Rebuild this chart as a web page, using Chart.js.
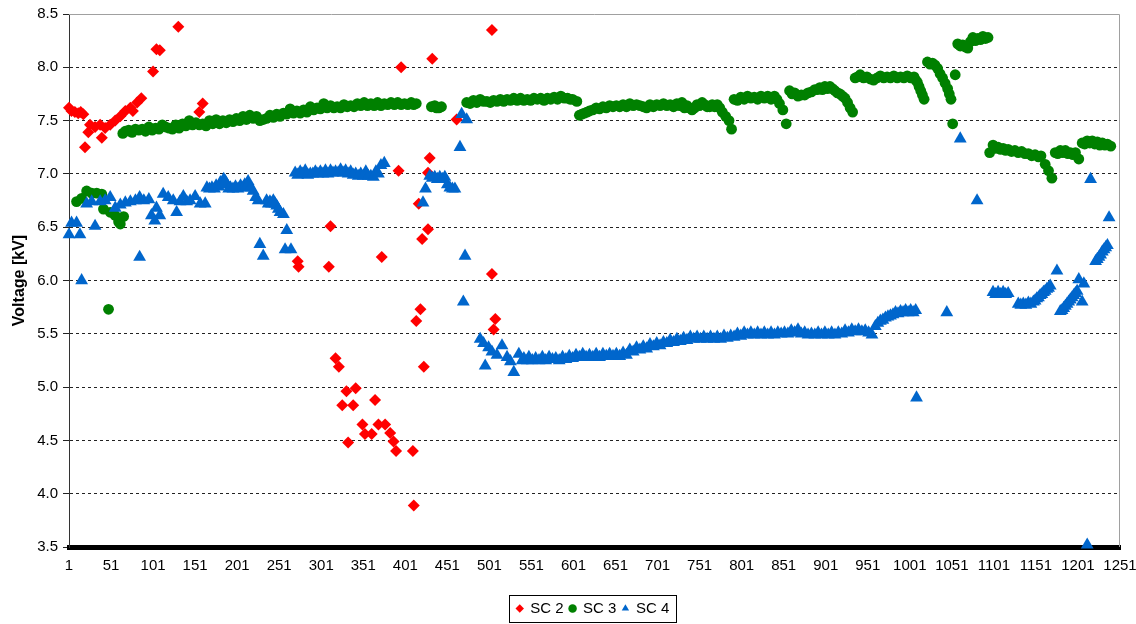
<!DOCTYPE html>
<html><head><meta charset="utf-8">
<script src="https://cdn.jsdelivr.net/npm/chart.js@4/dist/chart.umd.min.js"></script>
<style>html,body{margin:0;padding:0;background:#fff}#c{display:block}</style>
</head><body>
<canvas id="c" width="1136" height="624"></canvas>
<script>
const xTicks = [1,51,101,151,201,251,301,351,401,451,501,551,601,651,701,751,801,851,901,951,1001,1051,1101,1151,1201,1251];
const yMin = 3.5, yMax = 8.5, yStep = 0.5;
const yTitle = 'Voltage [kV]';
const seriesNames = ['SC 2','SC 3','SC 4'];

const sc2 = [
[1,7.62],[4,7.59],[8,7.58],[12,7.57],[15,7.58],[18,7.56],[20,7.25],[24,7.39],[26,7.46],[32,7.44],[38,7.46],[40,7.34],
[44,7.43],[50,7.46],[56,7.5],[62,7.54],[68,7.59],[74,7.62],[77,7.59],[82,7.67],[87,7.71],[101,7.96],[105,8.17],[109,8.16],
[131,8.38],[156,7.58],[160,7.66],
[273,6.18],[274,6.13],[310,6.13],[312,6.51],[318,5.27],[322,5.19],[326,4.83],[331,4.96],[333,4.48],[339,4.83],[342,4.99],
[350,4.65],[353,4.56],[361,4.56],[365,4.88],[369,4.65],[373,6.22],[377,4.65],[383,4.57],[387,4.49],[390,4.4],[393,7.03],
[396,8.0],[410,4.4],[411,3.89],[414,5.62],[417,6.72],[419,5.73],[421,6.39],[423,5.19],[428,7.01],[428,6.48],[430,7.15],
[433,8.08],[462,7.51],[504,8.35],[504,6.06],[506,5.54],[508,5.64]
];

const sc3 = [
[10,6.74],[16,6.77],[22,6.84],[28,6.82],[34,6.82],[40,6.81],[42,6.67],[48,5.73],[50,6.64],[56,6.61],[60,6.55],[62,6.53],[66,6.6],
[65,7.38],[72,7.41],[80,7.42],[88,7.42],[96,7.44],[104,7.43],[112,7.46],[120,7.43],[128,7.46],[136,7.47],[144,7.5],[152,7.48],
[160,7.47],[168,7.5],[176,7.51],[184,7.5],[192,7.51],[200,7.52],[208,7.54],[216,7.55],[224,7.54],[232,7.51],[240,7.55],[248,7.56],
[256,7.57],[264,7.61],[272,7.59],[280,7.6],[288,7.63],[296,7.62],[304,7.66],[312,7.64],[320,7.63],[328,7.65],[336,7.64],[344,7.66],
[352,7.67],[360,7.66],[368,7.67],[376,7.66],[384,7.67],[392,7.67],[400,7.66],[408,7.67],[414,7.66],[432,7.63],[438,7.62],[444,7.63],
[474,7.67],[482,7.69],[490,7.7],[498,7.68],[506,7.69],[514,7.7],[522,7.7],[530,7.71],[538,7.71],[546,7.7],[554,7.71],[562,7.71],
[570,7.71],[578,7.72],[586,7.73],[594,7.71],[600,7.7],[605,7.68],[608,7.55],[614,7.57],[620,7.59],[628,7.62],[636,7.63],[644,7.64],
[652,7.64],[660,7.65],[668,7.66],[676,7.65],[684,7.63],[692,7.65],[700,7.65],[708,7.66],[716,7.65],[724,7.66],[730,7.67],[736,7.64],
[742,7.6],[748,7.65],[754,7.67],[760,7.63],[766,7.65],[772,7.65],[778,7.58],[782,7.54],[786,7.5],[789,7.42],[792,7.7],[800,7.72],
[808,7.73],[816,7.72],[824,7.73],[832,7.73],[840,7.73],[846,7.66],[850,7.6],[854,7.47],[858,7.78],[864,7.76],[872,7.74],[880,7.76],
[888,7.79],[894,7.81],[900,7.82],[906,7.82],[912,7.78],[918,7.75],[924,7.71],[930,7.62],[933,7.58],[936,7.9],[942,7.93],[950,7.91],
[958,7.88],[966,7.92],[974,7.91],[982,7.92],[990,7.91],[998,7.92],[1006,7.91],[1010,7.86],[1014,7.78],[1018,7.7],[1022,8.05],
[1028,8.04],[1034,7.99],[1040,7.9],[1046,7.8],[1050,7.7],[1052,7.47],[1055,7.93],[1058,8.22],[1064,8.21],[1070,8.18],[1076,8.28],
[1082,8.27],[1088,8.29],[1094,8.28],[1096,7.2],[1100,7.27],[1106,7.25],[1112,7.24],[1118,7.23],[1126,7.22],[1134,7.21],[1142,7.19],
[1150,7.18],[1157,7.17],[1162,7.09],[1166,7.03],[1170,6.96],[1174,7.2],[1180,7.22],[1186,7.22],[1192,7.2],[1198,7.2],[1202,7.14],
[1206,7.29],[1212,7.31],[1218,7.31],[1224,7.3],[1230,7.29],[1236,7.28],[1240,7.26],
[68,7.4],[76,7.39],[84,7.41],[92,7.4],[100,7.41],[108,7.42],[116,7.44],[124,7.42],[132,7.43],[140,7.45],[148,7.46],[156,7.46],
[164,7.45],[172,7.47],[180,7.47],[188,7.48],[196,7.49],[204,7.5],[212,7.51],[220,7.52],[228,7.5],[236,7.52],[244,7.53],[252,7.54],
[260,7.56],[268,7.57],[276,7.57],[284,7.58],[292,7.6],[300,7.61],[308,7.62],[316,7.62],[324,7.62],[332,7.63],[340,7.63],[348,7.64],
[356,7.64],[364,7.64],[372,7.64],[380,7.65],[388,7.65],[396,7.65],[404,7.65],[411,7.65],[436,7.64],[441,7.62],
[478,7.66],[486,7.67],[494,7.68],[502,7.67],[510,7.68],[518,7.68],[526,7.69],[534,7.69],[542,7.69],[550,7.69],[558,7.7],[566,7.69],
[574,7.7],[582,7.7],[590,7.71],[597,7.7],
[611,7.56],[617,7.58],[624,7.6],[632,7.61],[640,7.62],[648,7.63],[656,7.63],[664,7.63],[672,7.64],[680,7.64],[688,7.62],[696,7.63],
[704,7.64],[712,7.64],[720,7.63],[727,7.64],[733,7.62],[739,7.62],[745,7.62],[751,7.64],[757,7.65],[763,7.63],[769,7.63],[775,7.62],
[796,7.69],[804,7.7],[812,7.71],[820,7.7],[828,7.71],[836,7.7],[843,7.7],
[861,7.75],[868,7.73],[876,7.74],[884,7.77],[891,7.79],[897,7.79],[903,7.8],[909,7.8],[915,7.76],[921,7.73],[927,7.67],
[939,7.91],[946,7.9],[954,7.89],[962,7.9],[970,7.9],[978,7.9],[986,7.9],[994,7.9],[1002,7.9],[1008,7.88],[1012,7.82],[1016,7.74],
[1025,8.03],[1031,8.02],[1037,7.94],[1043,7.85],[1048,7.75],
[1061,8.2],[1067,8.19],[1073,8.24],[1079,8.25],[1085,8.26],[1091,8.27],
[1103,7.24],[1109,7.23],[1115,7.22],[1122,7.21],[1130,7.2],[1138,7.19],[1146,7.17],[1154,7.16],
[1177,7.19],[1183,7.2],[1189,7.19],[1195,7.18],[1209,7.28],[1215,7.29],[1221,7.28],[1227,7.27],[1233,7.27]
];

const sc4 = [
[1,6.43],[4,6.54],[10,6.54],[14,6.43],[16,6.0],[22,6.72],[28,6.74],[32,6.51],[38,6.74],[44,6.75],[50,6.78],[56,6.68],[62,6.71],
[68,6.73],[74,6.74],[80,6.75],[85,6.78],[85,6.22],[90,6.75],[96,6.76],[99,6.61],[103,6.56],[105,6.68],[109,6.61],[113,6.81],
[119,6.78],[125,6.75],[129,6.64],[133,6.74],[137,6.79],[141,6.74],[145,6.75],[151,6.79],[157,6.72],[163,6.72],[165,6.87],[171,6.87],
[176,6.89],[181,6.92],[185,6.95],[189,6.9],[193,6.87],[199,6.88],[205,6.89],[210,6.9],[214,6.93],[220,6.84],[226,6.75],[228,6.34],
[232,6.23],[236,6.75],[240,6.74],[244,6.75],[248,6.7],[252,6.64],[256,6.62],[258,6.29],[260,6.47],[265,6.29],
[270,7.01],[276,7.02],[282,7.03],[288,7.0],[294,7.02],[300,7.02],[306,7.03],[312,7.03],[318,7.02],[324,7.04],[330,7.03],[336,7.02],
[342,7.0],[348,7.0],[354,7.02],[360,6.98],[366,7.02],[372,7.08],[376,7.1],
[422,6.73],[425,6.86],[430,6.98],[436,6.97],[442,6.97],[448,6.97],[454,6.87],[460,6.86],[466,7.25],[468,7.56],[474,7.51],[470,5.8],[472,6.23],
[490,5.45],[494,5.41],[496,5.2],[500,5.37],[504,5.33],[510,5.3],[516,5.39],[522,5.28],[526,5.24],[530,5.14],[536,5.31],[542,5.27],
[548,5.28],[556,5.27],[564,5.28],[572,5.28],[580,5.27],[588,5.28],[596,5.29],[604,5.3],[612,5.31],[620,5.3],[628,5.31],[636,5.31],
[644,5.31],[652,5.31],[660,5.32],[668,5.35],[676,5.37],[684,5.38],[692,5.4],[700,5.41],[708,5.42],[716,5.44],[724,5.45],[732,5.46],
[740,5.47],[748,5.47],[756,5.47],[764,5.47],[772,5.47],[780,5.48],[788,5.48],[796,5.5],[804,5.51],[812,5.51],[820,5.51],[828,5.51],
[836,5.51],[844,5.51],[852,5.51],[860,5.53],[868,5.54],[876,5.51],[884,5.5],[892,5.51],[900,5.51],[908,5.51],[916,5.51],[924,5.53],
[932,5.54],[940,5.54],[948,5.53],[956,5.49],[960,5.57],[966,5.62],[972,5.65],[978,5.67],[984,5.7],[990,5.71],[996,5.72],[1002,5.72],
[1008,5.72],[1009,4.9],[1045,5.7],[1061,7.33],[1081,6.75],[1100,5.89],[1106,5.89],[1112,5.89],[1118,5.88],[1130,5.78],[1136,5.78],
[1142,5.79],[1148,5.8],[1152,5.83],[1156,5.86],[1160,5.89],[1164,5.92],[1168,5.95],[1176,6.09],[1180,5.71],[1184,5.74],[1188,5.78],
[1192,5.82],[1196,5.86],[1200,5.9],[1202,6.01],[1206,5.8],[1208,5.97],[1212,3.52],[1216,6.95],[1222,6.18],[1226,6.22],[1230,6.27],
[1234,6.31],[1238,6.59],
[168,6.86],[174,6.86],[179,6.88],[183,6.9],[187,6.93],[191,6.86],[196,6.86],[202,6.86],[208,6.87],[212,6.88],[217,6.87],[223,6.78],
[238,6.72],[242,6.72],[246,6.72],[250,6.67],
[273,6.99],[279,7.0],[285,6.99],[291,7.0],[297,7.0],[303,7.0],[309,7.0],[315,7.01],[321,7.01],[327,7.01],[333,7.0],[339,6.99],
[345,6.98],[351,6.98],[357,6.98],[363,6.97],[369,7.0],
[433,6.96],[439,6.95],[445,6.95],[451,6.9],[457,6.86],
[540,5.25],[546,5.25],[552,5.25],[560,5.25],[568,5.25],[576,5.26],[584,5.25],[592,5.26],[600,5.27],[608,5.28],[616,5.28],[624,5.28],
[632,5.28],[640,5.29],[648,5.29],[656,5.29],[664,5.3],[672,5.33],[680,5.35],[688,5.36],[696,5.38],[704,5.39],[712,5.41],[720,5.42],
[728,5.43],[736,5.44],[744,5.45],[752,5.45],[760,5.45],[768,5.45],[776,5.45],[784,5.46],[792,5.47],[800,5.48],[808,5.49],[816,5.49],
[824,5.49],[832,5.49],[840,5.49],[848,5.5],[856,5.5],[864,5.51],[872,5.5],[880,5.49],[888,5.49],[896,5.49],[904,5.49],[912,5.49],
[920,5.5],[928,5.51],[936,5.52],[944,5.52],[952,5.51],
[963,5.6],[969,5.63],[975,5.66],[981,5.68],[987,5.69],[993,5.7],[999,5.7],[1005,5.7],
[1103,5.87],[1109,5.87],[1115,5.87],[1133,5.77],[1139,5.77],[1145,5.78],[1150,5.81],[1154,5.84],[1158,5.87],[1162,5.9],[1166,5.93],
[1182,5.72],[1186,5.76],[1190,5.8],[1194,5.84],[1198,5.88],[1224,6.2],[1228,6.24],[1232,6.29],[1236,6.33]
];

const FONT = '"Liberation Sans", Arial, Helvetica, sans-serif';
Chart.defaults.font.family = FONT;
Chart.defaults.font.size = 15;
Chart.defaults.color = '#000';

const toPts = a => a.map(p => ({x: p[0], y: p[1]}));

const LEGEND_SHIFT = 25;

const framePlugin = {
  id: 'frame',
  afterLayout(chart) {
    const lg = chart.legend;
    if (lg) { lg.left += LEGEND_SHIFT; lg.right += LEGEND_SHIFT; }
  },
  beforeDatasetsDraw(chart) {
    const {ctx, chartArea: a} = chart;
    ctx.save();
    ctx.strokeStyle = '#a0a0a0';
    ctx.lineWidth = 1;
    const t = Math.round(a.top) + 0.5, r = Math.round(a.right) - 0.5;
    ctx.beginPath();
    ctx.moveTo(a.left, t); ctx.lineTo(r, t); ctx.lineTo(r, a.bottom);
    ctx.stroke();
    ctx.restore();
  },
  afterDraw(chart) {
    const hb = chart.legend && chart.legend.legendHitBoxes;
    if (!hb || !hb.length) return;
    const {ctx} = chart;
    let l = Infinity, r = -Infinity, t = Infinity, b = -Infinity;
    hb.forEach(h => { l = Math.min(l, h.left); r = Math.max(r, h.left + h.width); t = Math.min(t, h.top); b = Math.max(b, h.top + h.height); });
    ctx.save();
    ctx.strokeStyle = '#000';
    ctx.lineWidth = 1;
    ctx.strokeRect(Math.round(l - 8) + 0.5, Math.round(t - 6) + 0.5, Math.round(r - l + 14), Math.round(b - t + 12));
    ctx.restore();
  }
};

new Chart(document.getElementById('c'), {
  type: 'scatter',
  data: {
    datasets: [
      {label: seriesNames[0], data: toPts(sc2), pointStyle: 'rectRot', pointRadius: 6, backgroundColor: '#ff0000', borderColor: '#ff0000', borderWidth: 0, order: 3, clip: false},
      {label: seriesNames[1], data: toPts(sc3), pointStyle: 'circle', pointRadius: 5.4, backgroundColor: '#008000', borderColor: '#008000', borderWidth: 0, order: 2, clip: false},
      {label: seriesNames[2], data: toPts(sc4), pointStyle: 'triangle', pointRadius: 7.4, backgroundColor: '#0066cc', borderColor: '#0066cc', borderWidth: 0, order: 1, clip: false}
    ]
  },
  options: {
    responsive: false,
    animation: false,
    events: [],
    layout: {padding: {top: 11, right: 0, bottom: 2, left: 0}},
    plugins: {
      tooltip: {enabled: false},
      legend: {
        position: 'bottom',
        maxHeight: 27,
        labels: {
          usePointStyle: true, boxWidth: 6, boxHeight: 6, padding: 6,
          font: {size: 15, family: FONT}, color: '#000',
          sort: (a, b) => a.datasetIndex - b.datasetIndex
        }
      }
    },
    scales: {
      x: {
        type: 'linear', min: 1, max: 1251,
        afterBuildTicks: s => { s.ticks = xTicks.map(v => ({value: v})); },
        afterFit: s => { s.height = 48; s.paddingRight = 16; s.paddingLeft = 0; },
        grid: {display: false, drawTicks: false},
        border: {display: true, color: '#000', width: 5},
        ticks: {autoSkip: false, maxRotation: 0, padding: 10, color: '#000', font: {size: 15}, callback: v => String(v)}
      },
      y: {
        min: yMin, max: yMax,
        afterFit: s => { s.width = 69; },
        grid: {
          color: c => (c.tick && (c.tick.value === yMax || c.tick.value === yMin)) ? 'rgba(0,0,0,0)' : '#222',
          tickColor: '#222', tickLength: 6, drawTicks: true, lineWidth: 1
        },
        border: {display: true, color: '#333', width: 1, dash: [3, 3]},
        ticks: {stepSize: yStep, padding: 5, color: '#000', font: {size: 15}, callback: v => Number(v).toFixed(1)},
        title: {display: true, text: yTitle, font: {size: 16, weight: 'bold', family: FONT}, color: '#000', padding: {top: 10, bottom: 0}}
      }
    }
  },
  plugins: [framePlugin]
});
</script>
</body></html>
